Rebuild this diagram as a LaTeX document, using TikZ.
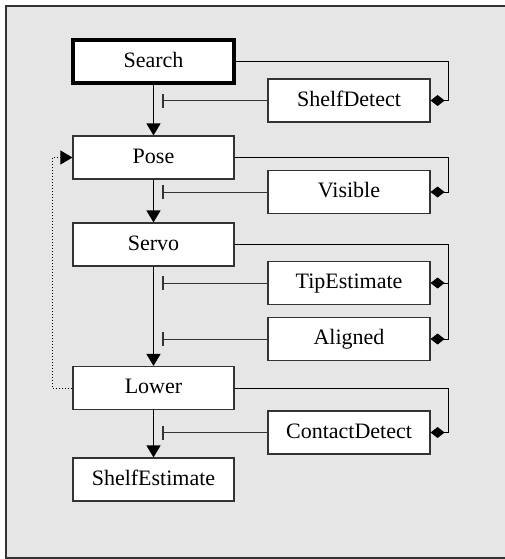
\documentclass[tikz,border=0pt]{standalone}
\usepackage{fontspec}
\setmainfont{Liberation Serif}
\usepackage{tikz}
\usetikzlibrary{arrows.meta, positioning, backgrounds}
\definecolor{PANEL}{HTML}{E6E6E6}
\definecolor{EDGE}{HTML}{333333}
\tikzset{
  STATE/.style={% Style for the states of the main column
      rectangle, line width=0.6pt,
      align=center,
      minimum width=80.5pt,
      minimum height=21.5pt,
      inner sep=0pt,
      text height=1.6ex,
          text depth=.3ex,
      fill=white,
      draw=EDGE,
  },
  START/.style={% Style for the initial state
      STATE,
      line width=2pt,
      draw=black,
  },
  COND/.style={% Style for the condition boxes
      STATE,
      minimum width=81pt,
  },
  flow/.style={thick,line width=0.6pt,-{Triangle[width=7pt,length=6pt]}},
  inhib/.style={line width=0.5pt,draw=EDGE,-{Bar[width=7pt,line width=1pt]}},
  guard/.style={line width=0.5pt,-{Diamond[width=5.5pt,length=7pt]}},
  back/.style={line width=0.5pt,densely dotted,-{Triangle[width=7pt,length=6pt]}}
}
\begin{document}
\begin{tikzpicture}[x=0.5pt,y=-0.5pt,font=\fontsize{11}{13}\selectfont]
    \useasboundingbox (0,0) rectangle (505,559);
    % panel
    \fill[PANEL] (6,6) rectangle (505,558);
    \draw[line width=0.6pt,EDGE] (505,6) -- (6,6) -- (6,558) -- (505,558);
    % main column
    \node[START] (Search) at (153.5,61.5) {Search};
    \node[STATE] (Pose) at (153.5,157.5) {Pose};
    \node[STATE] (Servo) at (153.5,244.5) {Servo};
    \node[STATE] (Lower) at (153.5,388) {Lower};
    \node[STATE] (ShelfEstimate) at (153.5,479.5) {ShelfEstimate};
    % conditions
    \node[COND] (ShelfDetect) at (349,100.5) {ShelfDetect};
    \node[COND] (Visible) at (349,192) {Visible};
    \node[COND] (TipEstimate) at (349,283) {TipEstimate};
    \node[COND] (Aligned) at (349,339) {Aligned};
    \node[COND] (ContactDetect) at (349,432.5) {ContactDetect};
    \coordinate (rail) at (449,0);
    \coordinate (stop) at (162,0);
    % transitions
    \foreach \a/\b in {Search/Pose, Pose/Servo, Servo/Lower, Lower/ShelfEstimate}
        \draw[flow] (\a) -- (\b);
    \foreach \c in {ShelfDetect, Visible, TipEstimate, Aligned, ContactDetect}
        \draw[inhib] (\c.west) -- (\c.west -| stop);
    \foreach \a/\c in {Search/ShelfDetect, Pose/Visible, Servo/Aligned, Lower/ContactDetect}
        \draw[guard] (\a.east) -- (\a.east -| rail) |- (\c.east);
    \draw[guard] (TipEstimate.east -| rail) -- (TipEstimate.east);
    \draw[back] (Lower.west) -- ++(-20,0) |- (Pose.west);
\end{tikzpicture}
\end{document}
